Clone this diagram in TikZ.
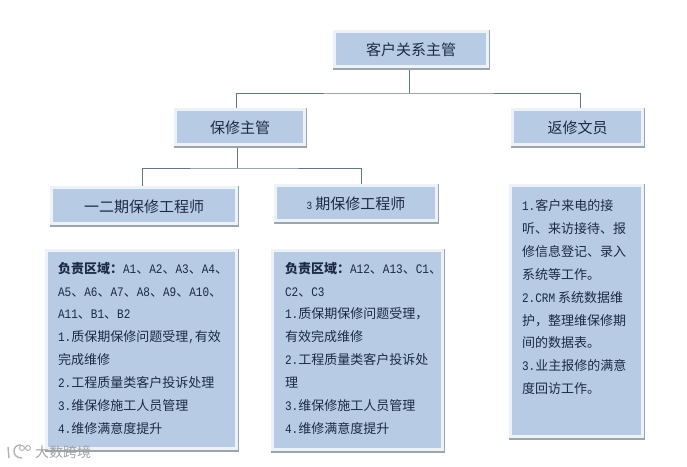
\documentclass[tikz,border=0pt]{standalone}
\usepackage{fontspec}
\setmainfont{Noto Sans CJK SC}
\newfontfamily\latn[FakeStretch=0.85]{Liberation Mono}
\usetikzlibrary{backgrounds,calc}
\definecolor{panelfill}{HTML}{B7CBE4}
\definecolor{paleedge}{HTML}{EDF2F8}
\definecolor{shadowc}{HTML}{9AA6AC}
\definecolor{linkc}{HTML}{64797F}
\definecolor{inkc}{HTML}{1C2A44}
\newcommand\tl[1]{{\latn\fontsize{13}{22.9}\selectfont #1}}
% name, x1, y1, x2, y2, text
\newcommand\orgbox[6]{%
  \fill[shadowc] (#2-3,#3-3) rectangle (#4+4,#5+5);
  \fill[paleedge] (#2-3,#3-3) rectangle (#4+3,#5+3);
  \path let \n1={#4-(#2)}, \n2={#5-(#3)} in
    node[panelbox,minimum width=\n1 pt,minimum height=\n2 pt] (#1) at ({(#2+#4)/2},{(#3+#5)/2}) {\raisebox{-6.7pt}[0pt][0pt]{#6}};
}
\tikzset{
  panelbox/.style={fill=panelfill,inner sep=0pt,outer sep=0pt,text=inkc,font=\fontsize{15}{18}\selectfont},
  panelbody/.style={anchor=north west,inner sep=0pt,outer sep=0pt,align=left,text=inkc,font=\fontsize{13}{22.9}\selectfont},
  linkline/.style={draw=linkc,line width=1pt},
  markc/.style={text=black!36,font=\fontsize{14}{15}\selectfont,inner sep=0pt,anchor=west}
}
\begin{document}
\begin{tikzpicture}[x=1pt,y=-1pt]
\useasboundingbox (0,0) rectangle (687,466);
\begin{pgfonlayer}{background}
\fill[white] (0,0) rectangle (687,466);
\end{pgfonlayer}
\orgbox{chief}{336}{33}{486}{65}{客户关系主管}
\orgbox{mgr}{177}{111}{303}{143}{保修主管}
\orgbox{clerk}{514}{111}{641}{143}{返修文员}
\orgbox{engA}{53}{189}{235}{222}{一二期保修工程师}
\orgbox{engB}{277}{187}{435}{219}{{\latn\fontsize{11}{18}\selectfont 3} 期保修工程师}
\orgbox{panA}{48}{252}{235}{447}{}
\orgbox{panB}{274}{252}{441}{448}{}
\orgbox{panC}{512}{187}{641}{435}{}
\node[panelbody] (txtA) at (58,262) {\textbf{负责区域：}\tl{A1}、\tl{A2}、\tl{A3}、\tl{A4}、\\
\tl{A5}、\tl{A6}、\tl{A7}、\tl{A8}、\tl{A9}、\tl{A10}、\\
\tl{A11}、\tl{B1}、\tl{B2}\\
\tl{1.}质保期保修问题受理\tl{,}有效\\
完成维修\\
\tl{2.}工程质量类客户投诉处理\\
\tl{3.}维保修施工人员管理\\
\tl{4.}维修满意度提升};
\node[panelbody] (txtB) at (285,262) {\textbf{负责区域：}\tl{A12}、\tl{A13}、\tl{C1}、\\
\tl{C2}、\tl{C3}\\
\tl{1.}质保期保修问题受理，\\
有效完成维修\\
\tl{2.}工程质量类客户投诉处\\
理\\
\tl{3.}维保修施工人员管理\\
\tl{4.}维修满意度提升};
\node[panelbody] (txtC) at (522,199.5) {\tl{1.}客户来电的接\\
听、来访接待、报\\
修信息登记、录入\\
系统等工作。\\
\tl{2.CRM} 系统数据维\\
护，整理维保修期\\
间的数据表。\\
\tl{3.}业主报修的满意\\
度回访工作。};
\coordinate (tapTop) at (409,93);
\coordinate (tapMid) at (237,168);
\begin{pgfonlayer}{background}
\draw[linkline] ([xshift=-2pt]chief.south) -- (tapTop);
\draw[linkline] ([xshift=-4pt]mgr.north) |- (tapTop) -| ([xshift=2.5pt]clerk.north);
\draw[linkline] ([xshift=-3pt]mgr.south) -- (tapMid);
\draw[linkline] ([xshift=-2pt]engA.north) |- (tapMid) -| ([xshift=5pt]engB.north);
\end{pgfonlayer}
\node[markc] (mark) at (35,452) {大数跨境};
\draw[black!30,line width=1.4pt] (8,447) -- (9,458) (21,445) .. controls (12,444) and (11,458) .. (22,458);
\draw[black!30,line width=0.9pt] (22,448) circle (2.5) (28,448) circle (2.5);
\end{tikzpicture}
\end{document}
